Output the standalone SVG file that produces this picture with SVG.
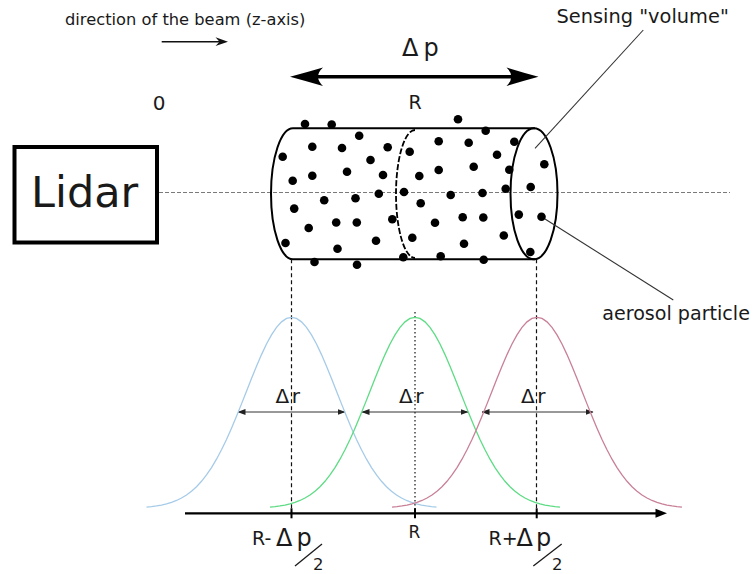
<svg xmlns="http://www.w3.org/2000/svg" xmlns:xlink="http://www.w3.org/1999/xlink" width="754" height="574" viewBox="0 0 754 574">
<style>
text{font-family:"DejaVu Sans","Liberation Sans",sans-serif;fill:#1a1a1a}
.dot{fill:#000}
.curve{fill:none;stroke-width:1.3}
.vd{stroke:#111;stroke-width:1.2;fill:none}
.lead{stroke:#333;stroke-width:1.1;fill:none}
.dr{stroke:#333;stroke-width:1;marker-start:url(#ah);marker-end:url(#ah)}
</style>
<defs>
<marker id="ah" viewBox="0 0 8 8" refX="7.5" refY="4" markerWidth="8" markerHeight="8" markerUnits="userSpaceOnUse" orient="auto-start-reverse">
<path d="M0,1 L8,4 L0,7 Z" fill="#222"/>
</marker>
<path id="gauss" d="M-145,507.11 L-140,506.62 L-135,505.96 L-130,505.08 L-125,503.91 L-120,502.4 L-115,500.47 L-110,498.02 L-105,494.98 L-100,491.24 L-95,486.7 L-90,481.29 L-85,474.94 L-80,467.59 L-75,459.2 L-70,449.81 L-65,439.46 L-60,428.23 L-55,416.3 L-50,403.88 L-45,391.18 L-40,378.51 L-35,366.22 L-30,354.61 L-25,344.06 L-20,334.89 L-15,327.4 L-10,321.86 L-5,318.45 L0,317.3 L5,318.45 L10,321.86 L15,327.4 L20,334.89 L25,344.06 L30,354.61 L35,366.22 L40,378.51 L45,391.18 L50,403.88 L55,416.3 L60,428.23 L65,439.46 L70,449.81 L75,459.2 L80,467.59 L85,474.94 L90,481.29 L95,486.7 L100,491.24 L105,494.98 L110,498.02 L115,500.47 L120,502.4 L125,503.91 L130,505.08 L135,505.96 L140,506.62 L145,507.11"/>
</defs>
<rect width="754" height="574" fill="#fff"/>

<g id="beam-direction">
<text x="65" y="25" font-size="16.3">direction of the beam (z-axis)</text>
<line x1="161.7" y1="41.7" x2="221" y2="41.7" stroke="#111" stroke-width="1.4"/>
<path d="M228,41.7 L215.5,37.3 L219.5,41.7 L215.5,46.1 Z" fill="#111"/>
</g>

<g id="delta-p-top">
<line x1="305" y1="76.7" x2="523" y2="76.7" stroke="#000" stroke-width="3.5"/>
<path d="M290,76.7 Q306,72.5 323,67.5 Q313,76.7 323,86 Q306,81 290,76.7 Z" fill="#000"/>
<path d="M538.5,76.7 Q522.5,72.5 506.5,67.5 Q516,76.7 506.5,86 Q522.5,81 538.5,76.7 Z" fill="#000"/>
<text x="402" y="56" font-size="24">Δ<tspan dx="5">p</tspan></text>
</g>

<text x="152.7" y="110" font-size="20">0</text>
<text x="408.5" y="108.5" font-size="19">R</text>

<g id="lidar">
<rect x="14.5" y="147" width="142.5" height="95.5" fill="#fff" stroke="#000" stroke-width="4"/>
<text x="31" y="207" font-size="43" fill="#000">Lidar</text>
</g>

<g id="beam-axis">
<line x1="159" y1="192.5" x2="730" y2="192.5" stroke="#7a7a7a" stroke-width="1.2" stroke-dasharray="4,2"/>
</g>

<g id="cylinder" fill="none" stroke="#000" stroke-width="2">
<line x1="293" y1="128.3" x2="535" y2="128.3"/>
<line x1="293" y1="259.3" x2="535" y2="259.3"/>
<path d="M293,128.3 A22,65.5 0 0 0 293,259.3"/>
<ellipse cx="534" cy="193.8" rx="23.5" ry="65.5"/>
<path d="M415,130 A19,64 0 0 0 415,258" stroke-width="1.8" stroke-dasharray="6,2"/>
</g>

<g id="particles">
<circle class="dot" cx="305" cy="124" r="4.3"/>
<circle class="dot" cx="331.7" cy="124.5" r="4.3"/>
<circle class="dot" cx="359.2" cy="135.8" r="4.3"/>
<circle class="dot" cx="312.3" cy="146.7" r="4.3"/>
<circle class="dot" cx="342" cy="148" r="4.3"/>
<circle class="dot" cx="387.7" cy="147.3" r="4.3"/>
<circle class="dot" cx="409.7" cy="151.7" r="4.3"/>
<circle class="dot" cx="282.7" cy="156.7" r="4.3"/>
<circle class="dot" cx="370.5" cy="160" r="4.3"/>
<circle class="dot" cx="292.7" cy="180.8" r="4.3"/>
<circle class="dot" cx="312.3" cy="175.7" r="4.3"/>
<circle class="dot" cx="347" cy="171.7" r="4.3"/>
<circle class="dot" cx="383" cy="175" r="4.3"/>
<circle class="dot" cx="419.3" cy="176" r="4.3"/>
<circle class="dot" cx="438.7" cy="141.3" r="4.3"/>
<circle class="dot" cx="458" cy="119.3" r="4.3"/>
<circle class="dot" cx="468.7" cy="142.7" r="4.3"/>
<circle class="dot" cx="485.7" cy="130.7" r="4.3"/>
<circle class="dot" cx="497" cy="154.7" r="4.3"/>
<circle class="dot" cx="514.3" cy="141.7" r="4.3"/>
<circle class="dot" cx="438.7" cy="170" r="4.3"/>
<circle class="dot" cx="473.7" cy="166.7" r="4.3"/>
<circle class="dot" cx="509.3" cy="169.7" r="4.3"/>
<circle class="dot" cx="544.3" cy="164.3" r="4.3"/>
<circle class="dot" cx="505.7" cy="188.7" r="4.3"/>
<circle class="dot" cx="530.7" cy="187" r="4.3"/>
<circle class="dot" cx="378.8" cy="193.7" r="4.3"/>
<circle class="dot" cx="404" cy="192" r="4.3"/>
<circle class="dot" cx="450.7" cy="195" r="4.3"/>
<circle class="dot" cx="482.5" cy="193" r="4.3"/>
<circle class="dot" cx="355.5" cy="198.2" r="4.3"/>
<circle class="dot" cx="324.2" cy="200.3" r="4.3"/>
<circle class="dot" cx="294.2" cy="208.6" r="4.3"/>
<circle class="dot" cx="420.7" cy="203.3" r="4.3"/>
<circle class="dot" cx="308.7" cy="228" r="4.3"/>
<circle class="dot" cx="336.2" cy="222.5" r="4.3"/>
<circle class="dot" cx="356.8" cy="222.5" r="4.3"/>
<circle class="dot" cx="392.3" cy="219.3" r="4.3"/>
<circle class="dot" cx="435" cy="222.7" r="4.3"/>
<circle class="dot" cx="462.7" cy="217.3" r="4.3"/>
<circle class="dot" cx="483.3" cy="217.5" r="4.3"/>
<circle class="dot" cx="518.8" cy="214.6" r="4.3"/>
<circle class="dot" cx="541.5" cy="216.7" r="4.3"/>
<circle class="dot" cx="285.5" cy="243" r="4.3"/>
<circle class="dot" cx="337.5" cy="248.8" r="4.3"/>
<circle class="dot" cx="376" cy="240.7" r="4.3"/>
<circle class="dot" cx="412.3" cy="237.7" r="4.3"/>
<circle class="dot" cx="464" cy="243.7" r="4.3"/>
<circle class="dot" cx="503.8" cy="235.5" r="4.3"/>
<circle class="dot" cx="314.5" cy="262" r="4.3"/>
<circle class="dot" cx="357" cy="264.7" r="4.3"/>
<circle class="dot" cx="403.3" cy="257.3" r="4.3"/>
<circle class="dot" cx="440.7" cy="256.3" r="4.3"/>
<circle class="dot" cx="483.7" cy="259.7" r="4.3"/>
<circle class="dot" cx="530.3" cy="252" r="4.3"/>
</g>

<g id="callouts">
<text x="556.4" y="22.7" font-size="19.4">Sensing &quot;volume&quot;</text>
<text x="602.3" y="319.5" font-size="19.1">aerosol particle</text>
</g>

<g id="connectors">
<line class="lead" x1="643.3" y1="30" x2="535" y2="148.3"/>
<line class="lead" x1="545" y1="219" x2="673.3" y2="300"/>
<line class="vd" x1="291.5" y1="259.3" x2="291.5" y2="513" stroke-dasharray="4,3"/>
<line class="vd" x1="536.5" y1="259.3" x2="536.5" y2="513" stroke-dasharray="4,3"/>
<line class="vd" x1="415" y1="312" x2="415" y2="513" stroke-dasharray="1.5,2.5"/>
<line class="dr" x1="238" y1="412" x2="345" y2="412"/>
<line class="dr" x1="362" y1="412" x2="468" y2="412"/>
<line class="dr" x1="482" y1="412" x2="593" y2="412"/>
</g>

<g id="curves">
<use xlink:href="#gauss" href="#gauss" x="291.5" class="curve" stroke="#a6cbe8"/>
<use xlink:href="#gauss" href="#gauss" x="415" class="curve" stroke="#5ddc84"/>
<use xlink:href="#gauss" href="#gauss" x="537" class="curve" stroke="#c98097"/>
</g>

<g id="dr-labels" font-size="20">
<text x="275.5" y="403">Δ<tspan dx="2.5">r</tspan></text>
<text x="399" y="403">Δ<tspan dx="2.5">r</tspan></text>
<text x="521" y="403">Δ<tspan dx="2.5">r</tspan></text>
</g>

<g id="range-axis">
<line x1="185" y1="513.3" x2="658" y2="513.3" stroke="#000" stroke-width="2.2"/>
<path d="M667,513.3 L655.5,508.8 L655.5,517.8 Z" fill="#000"/>
<line x1="291.5" y1="508.3" x2="291.5" y2="518.3" stroke="#000" stroke-width="2"/>
<line x1="415" y1="508.3" x2="415" y2="518.3" stroke="#000" stroke-width="2"/>
<line x1="536.7" y1="508.3" x2="536.7" y2="518.3" stroke="#000" stroke-width="2"/>
</g>

<g id="axis-labels">
<text x="252" y="545" font-size="19">R-</text>
<text x="276" y="545.5" font-size="24">Δ<tspan dx="4">p</tspan></text>
<line x1="295" y1="566" x2="322" y2="544" stroke="#1a1a1a" stroke-width="1.3"/>
<text x="313" y="569.5" font-size="16.5">2</text>
<text x="408.5" y="537.5" font-size="17">R</text>
<text x="488.5" y="544.5" font-size="19">R+</text>
<text x="516.5" y="545.5" font-size="24">Δ<tspan dx="3">p</tspan></text>
<line x1="533.3" y1="566" x2="561.7" y2="544" stroke="#1a1a1a" stroke-width="1.3"/>
<text x="552" y="569.5" font-size="16.5">2</text>
</g>
</svg>
